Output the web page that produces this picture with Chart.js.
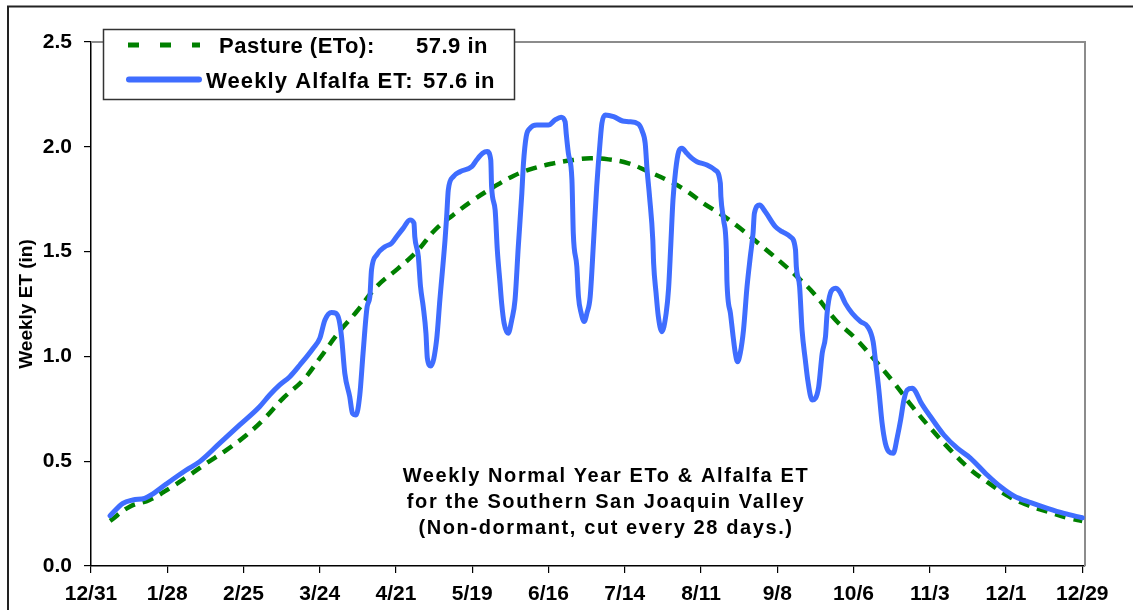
<!DOCTYPE html>
<html><head><meta charset="utf-8">
<script src="https://cdn.jsdelivr.net/npm/chart.js@4.4.1/dist/chart.umd.min.js"></script>
<style>html,body{margin:0;padding:0;background:#fff;}canvas{display:block;}</style>
</head><body>
<canvas id="c" width="1133" height="610"></canvas>
<script>
// ---- data ----
const xTickDays = [0,28,56,84,112,140,168,196,224,252,280,308,336,364];
const xTickLabels = ['12/31','1/28','2/25','3/24','4/21','5/19','6/16','7/14','8/11','9/8','10/6','11/3','12/1','12/29'];
const yTickValues = [0,0.5,1,1.5,2,2.5];
const yTickLabels = ['0.0','0.5','1.0','1.5','2.0','2.5'];

const etoDays = [7,14.2,21.5,28.9,36.2,42.4,49.7,57.1,63.8,70.5,77.9,84.0,90.7,97.5,104.9,112.8,119.6,126.3,133.0,140.4,147.7,155.1,162.4,169.8,177.1,183.3,190.0,197.4,204.1,211.5,218.2,224.9,231.7,238.4,245.8,253.1,259.3,265.6,273.4,280.7,288.1,294.8,301.6,308.3,315.6,322.4,329.7,337.1,343.8,351.2,359.1,364];
const etoValues = [0.215,0.283,0.315,0.371,0.434,0.490,0.553,0.625,0.705,0.800,0.887,0.991,1.110,1.213,1.333,1.420,1.500,1.603,1.675,1.746,1.807,1.861,1.897,1.921,1.937,1.945,1.940,1.921,1.885,1.842,1.794,1.730,1.675,1.611,1.532,1.452,1.380,1.298,1.174,1.086,0.978,0.875,0.760,0.657,0.553,0.466,0.395,0.331,0.291,0.259,0.228,0.215];

const alfalfaDays = [7,11.7,15.4,19.7,22.1,27.6,35.0,39.9,47.2,54.6,
61.9,65.6,69.3,73.0,76.7,81.6,84.0,85.9,88.3,89.9,
91.1,92.0,93.2,95.0,96.0,97.3,98.7,99.9,101.4,102.4,
103.0,104.9,107.9,110.4,112.2,114.6,117.1,118.6,118.9,120.2,
121.0,122.0,123.0,123.5,124.8,126.9,128.1,130.0,130.6,131.2,
133.0,135.5,139.8,141.6,143.8,145.5,146.8,147.1,148.4,149.2,
150.2,150.8,151.7,153.2,154.5,155.7,156.9,158.2,158.8,159.8,
161.2,163.7,168.0,170.4,172.6,174.1,174.5,175.3,176.6,177.1,
178.4,179.0,180.0,181.1,182.1,183.3,184.5,185.7,187.0,187.6,
188.8,191.9,195.2,197.4,201.0,202.4,203.5,204.2,205.1,206.3,
206.6,207.5,208.3,209.6,211.2,212.1,212.9,213.7,214.7,215.8,
217.0,218.8,220.7,222.5,226.2,229.2,231.1,231.3,232.3,233.3,
233.5,234.8,235.8,236.6,237.4,238.4,239.6,240.9,242.1,243.1,
243.6,245.5,247.6,251.3,253.8,256.8,258.7,259.0,260.2,261.1,
262.3,263.2,264.8,266.0,267.2,268.5,269.7,270.3,271.5,273.4,
274.9,277.0,279.5,282.6,285.2,287.2,288.1,289.3,290.5,291.7,
293.0,294.6,296.1,297.3,298.5,299.7,301.6,302.8,304.6,308.3,
313.2,318.1,323.0,329.1,334.0,338.9,345.1,351.2,357.3,364.0];
const alfalfaValues = [0.240,0.299,0.315,0.323,0.339,0.391,0.458,0.498,0.585,0.673,
0.760,0.816,0.864,0.903,0.959,1.039,1.086,1.174,1.210,1.206,
1.174,1.094,0.919,0.808,0.729,0.720,0.816,1.015,1.237,1.285,
1.412,1.484,1.523,1.540,1.571,1.611,1.651,1.635,1.571,1.476,
1.333,1.237,1.110,0.992,0.954,1.078,1.269,1.555,1.667,1.794,
1.857,1.881,1.905,1.937,1.969,1.977,1.937,1.810,1.698,1.508,
1.349,1.253,1.158,1.110,1.174,1.269,1.523,1.778,1.921,2.048,
2.088,2.104,2.104,2.128,2.141,2.120,2.064,1.969,1.842,1.587,
1.428,1.285,1.206,1.166,1.206,1.285,1.540,1.810,2.032,2.112,
2.152,2.144,2.123,2.120,2.109,2.075,2.017,1.889,1.762,1.555,
1.444,1.301,1.193,1.118,1.206,1.326,1.532,1.746,1.889,1.977,
1.993,1.969,1.945,1.929,1.913,1.889,1.826,1.762,1.651,1.508,
1.365,1.206,1.094,1.015,0.975,1.015,1.126,1.333,1.476,1.587,
1.683,1.722,1.690,1.619,1.595,1.571,1.508,1.428,1.333,1.126,
0.983,0.887,0.792,0.800,0.855,1.015,1.094,1.206,1.301,1.325,
1.309,1.253,1.206,1.166,1.142,1.070,0.975,0.840,0.681,0.585,
0.545,0.538,0.617,0.697,0.792,0.840,0.848,0.832,0.784,0.712,
0.625,0.562,0.514,0.434,0.378,0.334,0.302,0.275,0.251,0.230];

const seriesNames = ['Pasture (ETo):', 'Weekly Alfalfa ET:'];
const seriesTotals = ['57.9 in', '57.6 in'];
const yAxisTitle = 'Weekly ET (in)';
const noteLines = ['Weekly Normal Year ETo & Alfalfa ET', 'for the Southern San Joaquin Valley', '(Non-dormant, cut every 28 days.)'];

// ---- styles ----
const FONT = '"Liberation Sans", Arial, Helvetica, sans-serif';
const GREEN = '#008000';
const BLUE = '#3f6dff';

const toPts = (xs, ys) => xs.map((x, i) => ({x: x, y: ys[i]}));

const framePlugin = {
  id: 'frame',
  beforeDraw(chart) {
    const ctx = chart.ctx;
    ctx.save();
    ctx.fillStyle = '#fff';
    ctx.fillRect(0, 0, chart.width, chart.height);
    ctx.restore();
  },
  beforeDatasetsDraw(chart) {
    const {ctx, chartArea: a} = chart;
    ctx.save();
    ctx.strokeStyle = '#8c8c8c';
    ctx.lineWidth = 2;
    ctx.beginPath();
    ctx.moveTo(a.left, a.top);
    ctx.lineTo(a.right, a.top);
    ctx.lineTo(a.right, a.bottom);
    ctx.stroke();
    ctx.restore();
  },
  afterDraw(chart) {
    const ctx = chart.ctx;
    ctx.save();
    ctx.strokeStyle = '#222';
    ctx.lineWidth = 2;
    ctx.beginPath();
    ctx.moveTo(8, chart.height);
    ctx.lineTo(8, 6.5);
    ctx.lineTo(chart.width, 6.5);
    ctx.stroke();
    ctx.restore();
  }
};

const notePlugin = {
  id: 'note',
  afterDatasetsDraw(chart) {
    const ctx = chart.ctx;
    ctx.save();
    ctx.fillStyle = '#000';
    ctx.font = 'bold 20px ' + FONT;
    if ('letterSpacing' in ctx) ctx.letterSpacing = '1.6px';
    ctx.textAlign = 'center';
    ctx.textBaseline = 'alphabetic';
    const base = [482, 507.5, 533.5];
    noteLines.forEach((t, i) => ctx.fillText(t, 606, base[i]));
    ctx.restore();
  }
};

const legendPlugin = {
  id: 'boxLegend',
  afterDatasetsDraw(chart) {
    const ctx = chart.ctx;
    ctx.save();
    ctx.fillStyle = '#fff';
    ctx.fillRect(103.5, 29.5, 411, 70);
    ctx.strokeStyle = '#333';
    ctx.lineWidth = 1.5;
    ctx.strokeRect(103.5, 29.5, 411, 70);
    // samples
    ctx.strokeStyle = GREEN;
    ctx.lineWidth = 5;
    ctx.setLineDash([11, 21]);
    ctx.beginPath(); ctx.moveTo(128, 45); ctx.lineTo(200, 45); ctx.stroke();
    ctx.setLineDash([]);
    ctx.strokeStyle = BLUE;
    ctx.lineWidth = 6;
    ctx.lineCap = 'round';
    ctx.beginPath(); ctx.moveTo(129, 79.5); ctx.lineTo(199, 79.5); ctx.stroke();
    // texts
    ctx.fillStyle = '#000';
    ctx.font = 'bold 22px ' + FONT;
    ctx.textAlign = 'left';
    ctx.textBaseline = 'alphabetic';
    const hasLS = 'letterSpacing' in ctx;
    if (hasLS) ctx.letterSpacing = '0.5px';
    ctx.fillText(seriesNames[0], 219, 53);
    ctx.fillText(seriesTotals[0], 416, 53);
    ctx.fillText(seriesTotals[1], 423, 88);
    if (hasLS) ctx.letterSpacing = '1.1px';
    ctx.fillText(seriesNames[1], 206, 88);
    ctx.restore();
  }
};

new Chart(document.getElementById('c'), {
  type: 'line',
  data: {
    datasets: [
      {
        label: seriesNames[0] + ' ' + seriesTotals[0],
        data: toPts(etoDays, etoValues),
        borderColor: GREEN,
        borderWidth: 4.5,
        borderDash: [11, 8],
        pointRadius: 0,
        fill: false,
        tension: 0.4,
        order: 2
      },
      {
        label: seriesNames[1] + ' ' + seriesTotals[1],
        data: toPts(alfalfaDays, alfalfaValues),
        borderColor: BLUE,
        borderWidth: 5,
        pointRadius: 0,
        fill: false,
        cubicInterpolationMode: 'monotone',
        borderJoinStyle: 'round',
        borderCapStyle: 'round',
        order: 1
      }
    ]
  },
  options: {
    responsive: false,
    animation: false,
    devicePixelRatio: 1,
    layout: {padding: {left: 0, top: 42, right: 48, bottom: 0}},
    plugins: {legend: {display: false}, tooltip: {enabled: false}},
    scales: {
      x: {
        type: 'linear',
        min: 0, max: 365,
        afterBuildTicks(scale) { scale.ticks = xTickDays.map(v => ({value: v})); },
        afterFit(scale) { scale.height = 44; },
        grid: {display: true, drawOnChartArea: false, drawTicks: true, tickLength: 7, color: '#000', lineWidth: 1.2},
        border: {display: true, color: '#000', width: 1.5},
        ticks: {
          autoSkip: false, maxRotation: 0, minRotation: 0, padding: 9, color: '#000',
          font: {family: FONT, size: 21, weight: 'bold'},
          callback: (v, i) => xTickLabels[i]
        }
      },
      y: {
        min: 0, max: 2.5,
        afterBuildTicks(scale) { scale.ticks = yTickValues.map(v => ({value: v})); },
        afterFit(scale) { scale.width = 91; },
        grid: {display: true, drawOnChartArea: false, drawTicks: true, tickLength: 7, color: '#000', lineWidth: 1.2},
        border: {display: true, color: '#000', width: 1.5},
        title: {display: true, text: yAxisTitle, color: '#000', padding: {top: 15, bottom: 0},
          font: {family: FONT, size: 19, weight: 'bold'}},
        ticks: {
          padding: 12, color: '#000',
          font: {family: FONT, size: 21, weight: 'bold'},
          callback: (v, i) => yTickLabels[i]
        }
      }
    }
  },
  plugins: [framePlugin, notePlugin, legendPlugin]
});
</script>
</body></html>
